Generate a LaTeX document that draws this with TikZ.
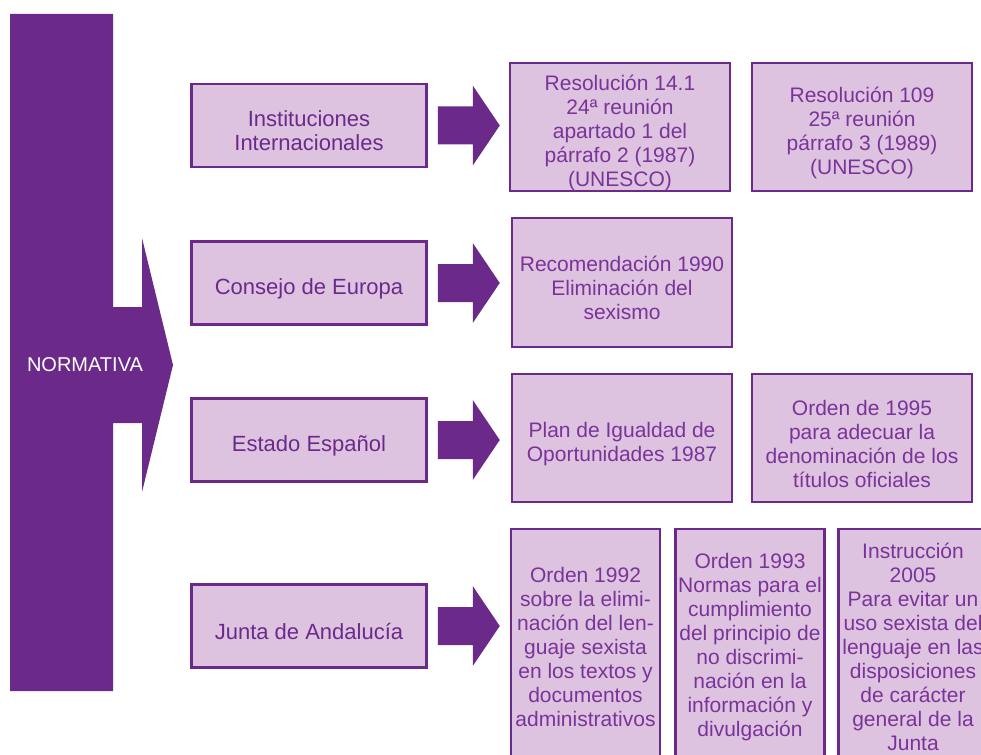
\documentclass[tikz,border=0pt]{standalone}
\usepackage{fontspec}
\setmainfont{Liberation Sans}
\usetikzlibrary{positioning,calc}
\definecolor{morado}{HTML}{6B2A8A}
\definecolor{lila}{HTML}{DDC3E0}
\definecolor{letra}{HTML}{7A3399}
\newcommand{\arriba}{\rule{0pt}{27pt}}
\tikzset{
	caja/.style={draw=morado, line width=2.5pt, fill=lila, align=center, inner sep=0pt},
	entidad/.style={caja, text=morado, minimum width=235pt, minimum height=83pt, font=\fontsize{22}{24}\selectfont},
	norma/.style={caja, text=letra, font=\fontsize{21}{24}\selectfont},
}
\newcommand{\flecha}[1]{%
	\fill[morado] ($(#1.east)+(10,-19)$) -- ++(35,0) -- ++(0,-21) -- ++(27,40)
		-- ++(-27,40) -- ++(0,-21) -- ++(-35,0) -- cycle;}
\begin{document}
\begin{tikzpicture}[x=1pt,y=-1pt]
		\useasboundingbox (0,0) rectangle (981,754);
		\clip (0,0) rectangle (981,754);
		% bloque grande
		\fill[morado] (10,14) -- (113,14) -- (113,307) -- (142,307) -- (142,238) -- (173,365)
			-- (142,492) -- (142,423) -- (113,423) -- (113,691) -- (10,691) -- cycle;
		\node[text=white, font=\fontsize{20}{24}\selectfont] (normativa) at (85,365) {NORMATIVA};
		% entidades
		\node[entidad] (inst) at (309,125.5) {\arriba Instituciones\\Internacionales};
		\node[entidad] (consejo) at (309,283) {\arriba Consejo de Europa};
		\node[entidad] (estado) at (309,440) {\arriba Estado Español};
		\node[entidad] (junta) at (309,626) {\arriba Junta de Andalucía};
		\flecha{inst}
		\flecha{consejo}
		\flecha{estado}
		\flecha{junta}
		% normas
		\node[norma, minimum width=220pt, minimum height=128pt] (res141) at (620,127)
			{\arriba Resolución 14.1\\24ª reunión\\apartado 1 del\\párrafo 2 (1987)\\(UNESCO)};
		\node[norma, minimum width=220pt, minimum height=128pt] (res109) at (862,127)
			{\arriba Resolución 109\\25ª reunión\\párrafo 3 (1989)\\(UNESCO)};
		\node[norma, minimum width=220pt, minimum height=129pt] (rec1990) at (622,282.5)
			{\arriba Recomendación 1990\\Eliminación del\\sexismo};
		\node[norma, minimum width=220pt, minimum height=128pt] (plan) at (622,438)
			{\arriba Plan de Igualdad de\\Oportunidades 1987};
		\node[norma, minimum width=220pt, minimum height=128pt] (ord1995) at (862,438)
			{\arriba Orden de 1995\\para adecuar la\\denominación de los\\títulos oficiales};
		\node[norma, minimum width=149pt, minimum height=236pt] (ord1992) at (585.5,647)
			{Orden 1992\\sobre la elimi-\\nación del len-\\guaje sexista\\en los textos y\\documentos\\administrativos};
		\node[norma, minimum width=149pt, minimum height=236pt] (ord1993) at (750,647)
			{Orden 1993\\Normas para el\\cumplimiento\\del principio de\\no discrimi-\\nación en la\\información y\\divulgación};
		\node[norma, minimum width=149pt, minimum height=236pt] (ins2005) at (913,647)
			{Instrucción\\2005\\Para evitar un\\uso sexista del\\lenguaje en las\\disposiciones\\de carácter\\general de la\\Junta};
	\end{tikzpicture}
\end{document}
